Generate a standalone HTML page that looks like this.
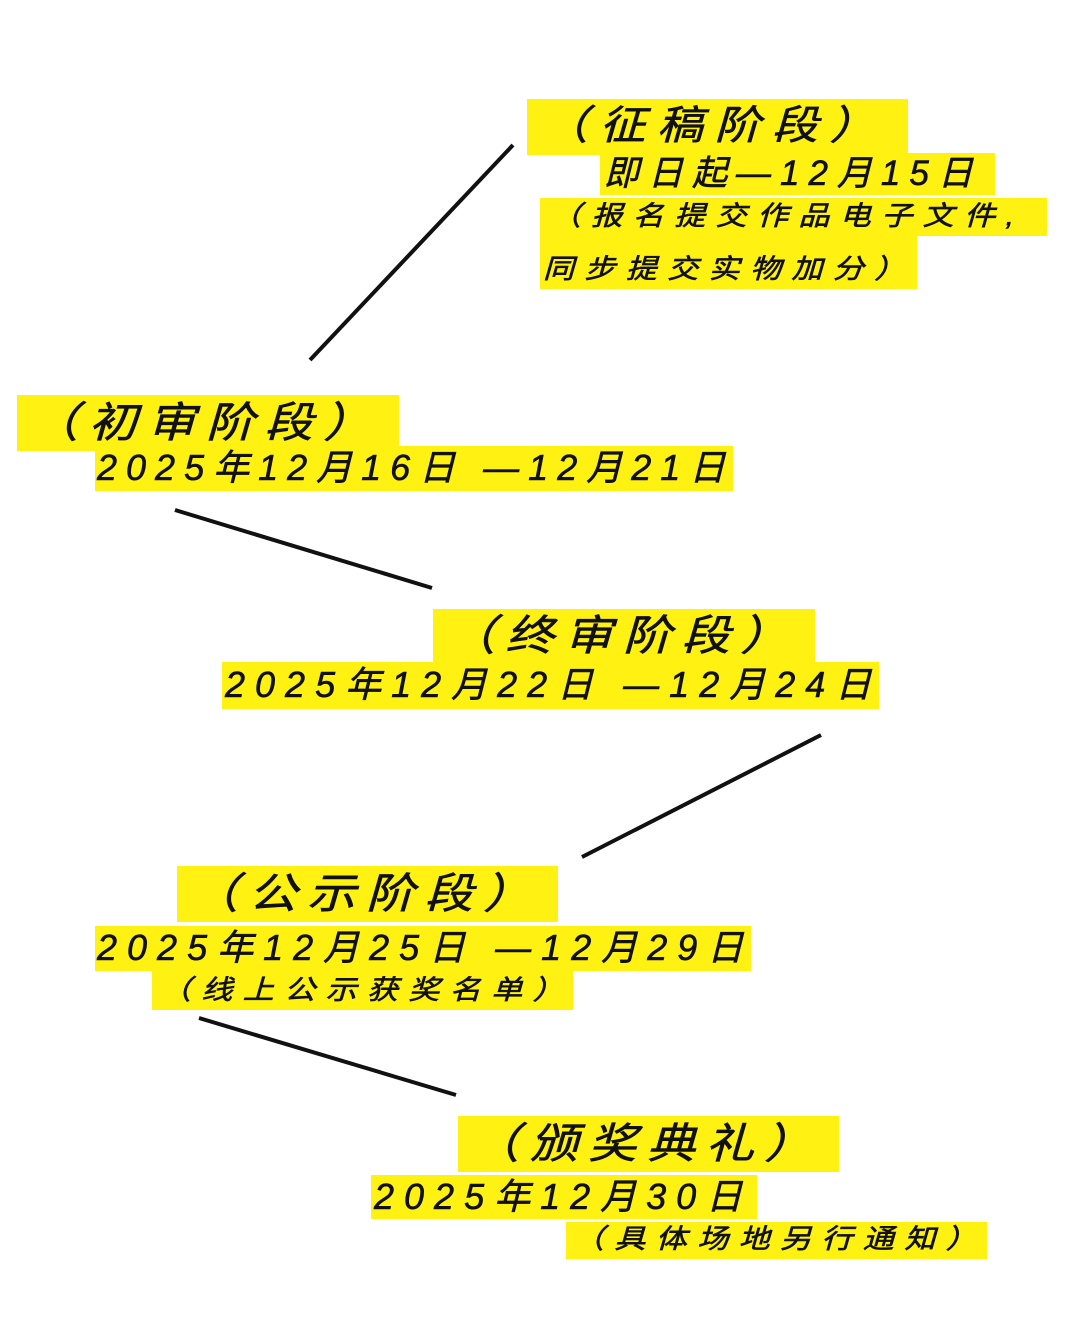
<!DOCTYPE html>
<html><head><meta charset="utf-8"><style>
html,body{margin:0;padding:0;background:#fff;}
body{width:1080px;height:1324px;position:relative;overflow:hidden;font-family:"Liberation Sans","Noto Sans CJK SC",sans-serif;}
.b{position:absolute;background:#fff212;}
.t{position:absolute;white-space:nowrap;font-style:italic;color:#111;line-height:1;-webkit-text-stroke:0.6px #111;transform-origin:0 0;}
.s{transform:scaleX(1.15);}
</style></head><body>
<svg width="1080" height="1324" style="position:absolute;left:0;top:0">
<g stroke="#111" stroke-width="4">
<line x1="513" y1="145" x2="310" y2="360"/>
<line x1="175" y1="510" x2="432" y2="588"/>
<line x1="821" y1="735" x2="582" y2="857"/>
<line x1="199" y1="1018" x2="456" y2="1095"/>
</g></svg>

<div class="b" style="left:527px;top:99px;width:381px;height:56px"></div>
<div class="b" style="left:600px;top:153px;width:395px;height:42px"></div>
<div class="b" style="left:540px;top:198px;width:507px;height:38px"></div>
<div class="b" style="left:540px;top:236px;width:377px;height:53px"></div>
<div class="t s" style="left:542px;top:106px;font-size:40px;letter-spacing:10px">（征稿阶段）</div>
<div class="t" style="left:604px;top:156px;font-size:35px;letter-spacing:9px">即日起—12月15日</div>
<div class="t s" style="left:550px;top:203px;font-size:27px;letter-spacing:9px">（报名提交作品电子文件,</div>
<div class="t s" style="left:543px;top:256px;font-size:27px;letter-spacing:9px">同步提交实物加分）</div>

<div class="b" style="left:17px;top:395px;width:382px;height:56px"></div>
<div class="b" style="left:95px;top:446px;width:638px;height:45px"></div>
<div class="t s" style="left:30px;top:402px;font-size:42px;letter-spacing:9px">（初审阶段）</div>
<div class="t" style="left:97px;top:450px;font-size:36px;letter-spacing:9px">2025年12月16日 —12月21日</div>

<div class="b" style="left:433px;top:609px;width:382px;height:53px"></div>
<div class="b" style="left:222px;top:662px;width:657px;height:47px"></div>
<div class="t s" style="left:447px;top:615px;font-size:42px;letter-spacing:9px">（终审阶段）</div>
<div class="t" style="left:225px;top:667px;font-size:36px;letter-spacing:10px">2025年12月22日 —12月24日</div>

<div class="b" style="left:177px;top:866px;width:381px;height:56px"></div>
<div class="b" style="left:95px;top:926px;width:656px;height:45px"></div>
<div class="b" style="left:152px;top:971px;width:421px;height:39px"></div>
<div class="t s" style="left:190px;top:873px;font-size:42px;letter-spacing:9px">（公示阶段）</div>
<div class="t" style="left:97px;top:930px;font-size:36px;letter-spacing:10px">2025年12月25日 —12月29日</div>
<div class="t s" style="left:160px;top:977px;font-size:27px;letter-spacing:9px">（线上公示获奖名单）</div>

<div class="b" style="left:458px;top:1116px;width:381px;height:56px"></div>
<div class="b" style="left:371px;top:1175px;width:386px;height:44px"></div>
<div class="b" style="left:566px;top:1222px;width:421px;height:37px"></div>
<div class="t s" style="left:471px;top:1123px;font-size:42px;letter-spacing:9px">（颁奖典礼）</div>
<div class="t" style="left:374px;top:1179px;font-size:36px;letter-spacing:10px">2025年12月30日</div>
<div class="t s" style="left:573px;top:1226px;font-size:27px;letter-spacing:9px">（具体场地另行通知）</div>
</body></html>
